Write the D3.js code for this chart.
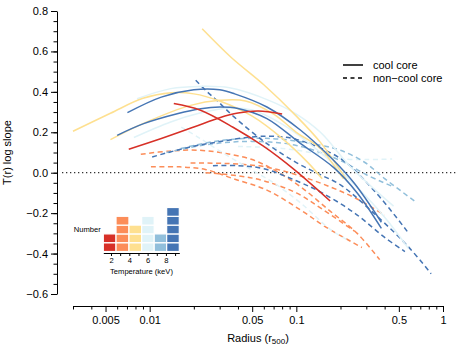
<!DOCTYPE html>
<html>
<head>
<meta charset="utf-8">
<script src="https://cdn.jsdelivr.net/npm/d3@7"></script>
<style>
  body { margin: 0; background: #fff; }
  svg { display: block; }
  text { font-family: "Liberation Sans", Arial, sans-serif; }
</style>
</head>
<body>
<svg width="458" height="347"></svg>
<script>
// Temperature histogram (inset)
var tempBinEdges = [1.16, 2.55, 3.96, 5.35, 6.72, 8.08, 9.46];
var tempCounts = [2, 4, 3, 4, 2, 5];
var binColors = ["#d73027", "#fc8d59", "#fee090", "#e0f3f8", "#91bfdb", "#4575b4"];

// axis ticks
var xMajor = [0.005, 0.01, 0.05, 0.1, 0.5, 1];
var xMinor = [0.003, 0.004, 0.006, 0.007, 0.008, 0.009, 0.02, 0.03, 0.04,
              0.06, 0.07, 0.08, 0.09, 0.2, 0.3, 0.4, 0.6, 0.7, 0.8, 0.9];
var yMajor = [-0.6, -0.4, -0.2, 0, 0.2, 0.4, 0.6, 0.8];
var tempTicks = [2, 3, 4, 5, 6, 7, 8, 9];

// log slope profiles, [radius (r500), slope]
// cool core (solid)
var redA    = [[0.0072,0.116],[0.012,0.169],[0.02,0.226],[0.03,0.272],[0.04,0.295],[0.055,0.305],[0.08,0.29]];
var redB    = [[0.0146,0.342],[0.022,0.31],[0.037,0.225],[0.06,0.13],[0.095,0.02],[0.17,-0.14]];
var yellowA = [[0.003,0.205],[0.0054,0.294],[0.009,0.368],[0.014,0.395],[0.02,0.39],[0.03,0.355],[0.05,0.28],[0.08,0.17],[0.12,0.05],[0.15,-0.03]];
var yellowB = [[0.0054,0.164],[0.009,0.243],[0.019,0.333],[0.03,0.358],[0.045,0.355],[0.07,0.29],[0.1,0.2],[0.146,0.12],[0.2,-0.01],[0.21,-0.03]];
var yellowC = [[0.0228,0.712],[0.036,0.57],[0.06,0.435],[0.1,0.28],[0.146,0.15],[0.2,0.01],[0.22,-0.035]];
var cyanA   = [[0.0082,0.366],[0.0139,0.416],[0.022,0.427],[0.035,0.42],[0.065,0.358],[0.1,0.29],[0.146,0.2],[0.234,0.03],[0.46,-0.165]];
var cyanB   = [[0.0078,0.174],[0.0139,0.251],[0.022,0.295],[0.035,0.32],[0.05,0.31],[0.08,0.24],[0.146,0.1],[0.25,-0.06],[0.4,-0.22],[0.58,-0.374]];
var blueA   = [[0.00705,0.297],[0.012,0.374],[0.02,0.41],[0.03,0.41],[0.038,0.39],[0.063,0.325],[0.107,0.21],[0.18,0.06],[0.25,-0.055],[0.38,-0.245]];
var blueB   = [[0.006,0.185],[0.0091,0.243],[0.0154,0.292],[0.0223,0.317],[0.03,0.325],[0.04,0.318],[0.063,0.268],[0.107,0.144],[0.18,0.025],[0.26,-0.1],[0.38,-0.275]];
// non-cool core (dashed)
var orangeA = [[0.0087,0.091],[0.014,0.108],[0.022,0.111],[0.033,0.095],[0.05,0.065],[0.07,0.015],[0.107,-0.07],[0.17,-0.19],[0.26,-0.3],[0.37,-0.43]];
var orangeB = [[0.0102,0.029],[0.016,0.029],[0.024,0.016],[0.037,-0.029],[0.063,-0.086],[0.107,-0.185],[0.16,-0.27],[0.28,-0.37]];
var orangeC = [[0.019,0.048],[0.035,0.045],[0.06,0.03],[0.1,-0.01],[0.17,-0.07],[0.26,-0.13],[0.4,-0.21]];
var orangeD = [[0.024,0.0],[0.04,-0.015],[0.06,-0.04],[0.1,-0.1],[0.15,-0.18],[0.25,-0.29]];
var cyanC   = [[0.0164,0.226],[0.022,0.17],[0.032,0.095],[0.042,0.045],[0.05,0.012],[0.07,-0.05],[0.107,-0.15],[0.17,-0.28],[0.22,-0.33]];
var cyanD   = [[0.04,0.13],[0.08,0.12],[0.15,0.09],[0.2,0.07],[0.3,0.065],[0.45,0.068]];
var ltblueA = [[0.0163,0.12],[0.029,0.157],[0.05,0.17],[0.08,0.165],[0.146,0.136],[0.2,0.111],[0.29,0.053],[0.4,-0.029],[0.65,-0.144]];
var ltblueB = [[0.013,0.1],[0.025,0.14],[0.05,0.155],[0.1,0.135],[0.2,0.06],[0.3,-0.01],[0.46,-0.07]];
var blueC   = [[0.0206,0.457],[0.0247,0.4],[0.029,0.355],[0.0376,0.276],[0.063,0.144],[0.1,0.05],[0.146,-0.01],[0.2,-0.06],[0.32,-0.185],[0.58,-0.366],[0.83,-0.5]];
var blueD   = [[0.0104,0.078],[0.018,0.124],[0.029,0.152],[0.05,0.177],[0.07,0.18],[0.1,0.165],[0.2,0.07],[0.35,-0.1],[0.57,-0.29]];
var blueE   = [[0.027,0.035],[0.04,0.035],[0.06,0.02],[0.1,-0.04],[0.15,-0.1],[0.25,-0.2],[0.4,-0.32],[0.55,-0.39]];

// bin index (0..5) and core type for each profile
var profiles = [
  {pts: orangeA, bin: 1, cc: false}, {pts: orangeB, bin: 1, cc: false},
  {pts: orangeC, bin: 1, cc: false}, {pts: orangeD, bin: 1, cc: false},
  {pts: cyanC, bin: 3, cc: false},   {pts: cyanD, bin: 3, cc: false},
  {pts: ltblueA, bin: 4, cc: false}, {pts: ltblueB, bin: 4, cc: false},
  {pts: blueC, bin: 5, cc: false},   {pts: blueD, bin: 5, cc: false},
  {pts: blueE, bin: 5, cc: false},
  {pts: cyanA, bin: 3, cc: true},    {pts: cyanB, bin: 3, cc: true},
  {pts: yellowA, bin: 2, cc: true},  {pts: yellowB, bin: 2, cc: true},
  {pts: yellowC, bin: 2, cc: true},
  {pts: blueA, bin: 5, cc: true},    {pts: blueB, bin: 5, cc: true},
  {pts: redA, bin: 0, cc: true},     {pts: redB, bin: 0, cc: true}
];

var svg = d3.select("svg");

var x = d3.scaleLog().domain([0.003, 1]).range([73, 443]);
var y = d3.scaleLinear().domain([-0.6, 0.8]).range([294, 11]);

// zero line
svg.append("line")
  .attr("x1", 62).attr("x2", 458)
  .attr("y1", y(0)).attr("y2", y(0))
  .attr("stroke", "#333").attr("stroke-width", 1.3)
  .attr("stroke-dasharray", "1.3,2.7");

// profiles
var line = d3.line()
  .x(function(d) { return x(d[0]); })
  .y(function(d) { return y(d[1]); })
  .curve(d3.curveCatmullRom.alpha(0.5));

svg.append("g")
  .selectAll("path")
  .data(profiles)
  .enter()
  .append("path")
    .attr("d", function(d) { return line(d.pts); })
    .attr("fill", "none")
    .attr("stroke", function(d) { return binColors[d.bin]; })
    .attr("stroke-width", 1.5)
    .attr("stroke-dasharray", function(d) { return d.cc ? null : "5,3.5"; });

// axes
function styleAxis(g, size) {
  g.selectAll("text")
    .attr("font-family", "Liberation Sans, Arial, sans-serif")
    .attr("font-size", size).attr("fill", "#000");
  g.selectAll("line,path").attr("stroke", "#000");
}

svg.append("g")
  .attr("transform", "translate(0,306)")
  .call(d3.axisBottom(x).tickValues(xMajor).tickFormat(function(d) { return String(d); })
    .tickSize(6).tickSizeOuter(0).tickPadding(4.5))
  .call(styleAxis, 11);
svg.append("g")
  .attr("transform", "translate(0,306)")
  .call(d3.axisBottom(x).tickValues(xMinor).tickFormat("").tickSize(3.5))
  .call(function(g) { g.select(".domain").remove(); })
  .call(styleAxis, 11);

svg.append("g")
  .attr("transform", "translate(57,0)")
  .call(d3.axisLeft(y).tickValues(yMajor).tickFormat(d3.format(".1f"))
    .tickSize(6).tickSizeOuter(0).tickPadding(3))
  .call(styleAxis, 11);
svg.append("g")
  .attr("transform", "translate(57,0)")
  .call(d3.axisLeft(y).tickValues(d3.range(-12, 17).map(function(i) { return i * 0.05; })).tickFormat("").tickSize(3.5))
  .call(function(g) { g.select(".domain").remove(); })
  .call(styleAxis, 11);

// axis titles
svg.append("text")
  .attr("transform", "translate(11,152.5) rotate(-90)")
  .attr("text-anchor", "middle")
  .attr("font-size", 11)
  .text("T(r) log slope");

var xt = svg.append("text")
  .attr("x", 258).attr("y", 342)
  .attr("text-anchor", "middle")
  .attr("font-size", 11);
xt.append("tspan").text("Radius (r");
xt.append("tspan").attr("font-size", 8).attr("dy", 2).text("500");
xt.append("tspan").attr("dy", -2).text(")");

// legend
var legend = svg.append("g").attr("transform", "translate(343,65)");
[["cool core", null], ["non\u2212cool core", "4,3.5"]].forEach(function(d, i) {
  legend.append("line")
    .attr("x1", 0).attr("x2", 20)
    .attr("y1", i * 13).attr("y2", i * 13)
    .attr("stroke", "#000").attr("stroke-width", 1.5)
    .attr("stroke-dasharray", d[1]);
  legend.append("text")
    .attr("x", 30).attr("y", i * 13 + 3.8)
    .attr("font-size", 11)
    .text(d[0]);
});

// inset histogram
var xT = d3.scaleLinear().domain([tempBinEdges[0], tempBinEdges[6]]).range([103.3, 179.3]);
var yN = d3.scaleLinear().domain([0, 5]).range([251.5, 207.5]);

var cells = [];
tempCounts.forEach(function(c, i) {
  for (var k = 0; k < c; k++) cells.push({bin: i, k: k});
});

svg.append("g")
  .selectAll("rect")
  .data(cells)
  .enter()
  .append("rect")
    .attr("x", function(d) { return xT(tempBinEdges[d.bin]); })
    .attr("width", function(d) { return xT(tempBinEdges[d.bin + 1]) - xT(tempBinEdges[d.bin]); })
    .attr("y", function(d) { return yN(d.k + 1); })
    .attr("height", function(d) { return yN(d.k) - yN(d.k + 1); })
    .attr("fill", function(d) { return binColors[d.bin]; })
    .attr("stroke", "#fff")
    .attr("stroke-width", 1.2);

svg.append("g")
  .attr("transform", "translate(0,253)")
  .call(d3.axisBottom(xT).tickValues(tempTicks)
    .tickFormat(function(d) { return d % 2 === 0 ? d : ""; })
    .tickSize(3).tickSizeOuter(0).tickPadding(1.5))
  .call(styleAxis, 7.6);

svg.append("text")
  .attr("x", 141.5).attr("y", 274)
  .attr("text-anchor", "middle")
  .attr("font-size", 7.6)
  .text("Temperature (keV)");

svg.append("text")
  .attr("x", 100.7).attr("y", 231.8)
  .attr("text-anchor", "end")
  .attr("font-size", 7.6)
  .text("Number");
</script>
</body>
</html>
